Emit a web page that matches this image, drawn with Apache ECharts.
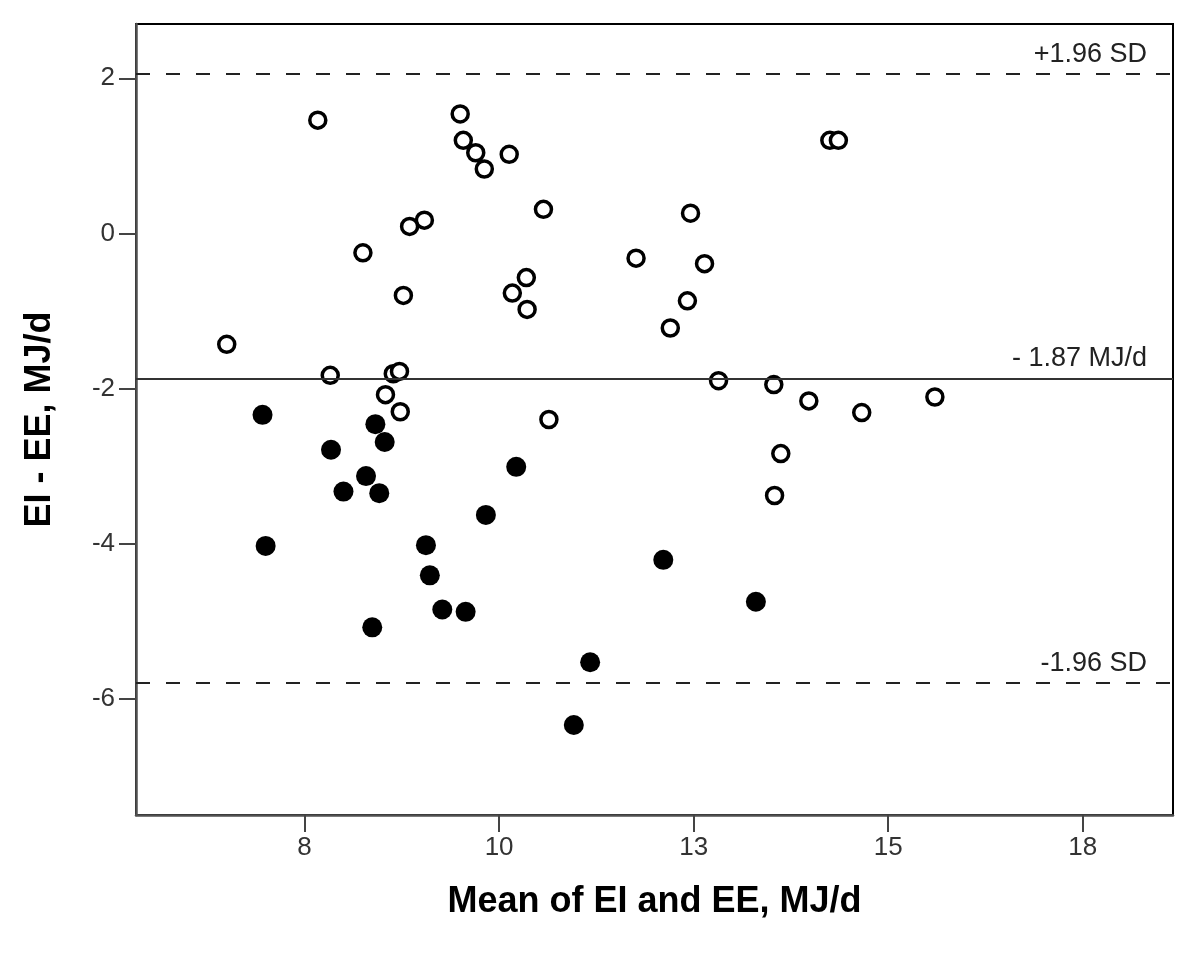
<!DOCTYPE html>
<html>
<head>
<meta charset="utf-8">
<script src="https://cdn.jsdelivr.net/npm/echarts@6/dist/echarts.min.js"></script>
<style>
  html, body { margin: 0; padding: 0; background: #fff; }
  #main { width: 1200px; height: 961px; }
</style>
</head>
<body>
<div id="main"></div>
<script>
// mean of EI and EE (x) and EI - EE (y), both MJ/d
var openMean = [7.67, 9.50, 9.54, 9.70, 9.81, 10.13, 10.57, 9.04, 8.85, 8.25, 8.77, 10.35, 10.17, 10.36,
    6.50, 7.83, 8.64, 8.72, 8.54, 8.73, 10.64, 14.25, 14.36, 12.46, 11.76, 12.64, 12.42, 12.20,
    12.82, 13.53, 13.98, 14.66, 15.60, 13.62, 13.54];
var openDiff = [1.46, 1.54, 1.20, 1.04, 0.83, 1.02, 0.31, 0.17, 0.09, -0.25, -0.80, -0.57, -0.77, -0.98,
    -1.43, -1.83, -1.81, -1.78, -2.08, -2.30, -2.40, 1.20, 1.20, 0.26, -0.32, -0.39, -0.87, -1.22,
    -1.90, -1.95, -2.16, -2.31, -2.11, -2.84, -3.38];
var filledMean = [6.96, 7.84, 8.41, 8.53, 8.29, 8.00, 8.46, 10.22, 9.83, 7.00, 9.06, 9.11, 9.27, 9.57,
    8.37, 11.17, 10.96, 12.11, 13.30];
var filledDiff = [-2.34, -2.79, -2.46, -2.69, -3.13, -3.33, -3.35, -3.01, -3.63, -4.03, -4.02, -4.41,
    -4.85, -4.88, -5.08, -5.53, -6.34, -4.21, -4.75];

var meanDiff = -1.87;
var upperLimit = 2.06;
var lowerLimit = -5.80;

var xTicks = [7.5, 10, 12.5, 15, 17.5];
var yTicks = [-6, -4, -2, 0, 2];

var FONT = '"Liberation Sans", Arial, sans-serif';

function zip(a, b) {
    return a.map(function (v, i) { return [v, b[i]]; });
}

var myChart = echarts.init(document.getElementById('main'));

var refLabel = function (text) {
    return {
        show: true,
        position: 'insideEndTop',
        formatter: text,
        fontFamily: FONT,
        fontSize: 27,
        color: '#222',
        distance: 6,
        padding: [0, 20, 0, 0]
    };
};

var option = {
    animation: false,
    backgroundColor: '#fff',
    grid: {
        left: 136, right: 27, top: 24, bottom: 146,
        show: true,
        borderColor: '#000',
        borderWidth: 2,
        backgroundColor: '#fff'
    },
    xAxis: {
        type: 'value',
        min: 5.334,
        max: 18.66,
        name: 'Mean of EI and EE, MJ/d',
        nameLocation: 'middle',
        nameGap: 69,
        nameTextStyle: { fontFamily: FONT, fontSize: 36, fontWeight: 'bold', color: '#000' },
        axisLine: { show: true, onZero: false, lineStyle: { color: '#505050', width: 2.5 } },
        axisTick: { show: true, length: 17, customValues: xTicks, lineStyle: { color: '#444', width: 2 } },
        axisLabel: {
            customValues: xTicks,
            margin: 20,
            fontFamily: FONT, fontSize: 26, color: '#333',
            formatter: function (v) { return String(Math.round(v)); }
        },
        splitLine: { show: false }
    },
    yAxis: {
        type: 'value',
        min: -7.5,
        max: 2.7,
        name: 'EI - EE, MJ/d',
        nameLocation: 'middle',
        nameGap: 78,
        nameTextStyle: { fontFamily: FONT, fontSize: 36, fontWeight: 'bold', color: '#000' },
        axisLine: { show: true, onZero: false, lineStyle: { color: '#505050', width: 2.5 } },
        axisTick: { show: true, length: 17, customValues: yTicks, lineStyle: { color: '#444', width: 2 } },
        axisLabel: {
            customValues: yTicks,
            margin: 21,
            fontFamily: FONT, fontSize: 26, color: '#333'
        },
        splitLine: { show: false }
    },
    series: [
        {
            // reference lines only
            type: 'scatter',
            data: [],
            z: 1,
            markLine: {
                silent: true,
                symbol: 'none',
                animation: false,
                data: [
                    { yAxis: upperLimit, lineStyle: { type: [14, 16], color: '#222', width: 2 }, label: refLabel('+1.96 SD') },
                    { yAxis: meanDiff, lineStyle: { type: 'solid', color: '#333', width: 2 }, label: refLabel('- 1.87 MJ/d') },
                    { yAxis: lowerLimit, lineStyle: { type: [14, 16], color: '#222', width: 2 }, label: refLabel('-1.96 SD') }
                ]
            }
        },
        {
            name: 'filled',
            type: 'scatter',
            z: 3,
            symbol: 'circle',
            symbolSize: 20,
            itemStyle: { color: '#000', opacity: 1 },
            data: zip(filledMean, filledDiff)
        },
        {
            name: 'open',
            type: 'scatter',
            z: 4,
            symbol: 'circle',
            symbolSize: 16,
            itemStyle: { color: '#fff', borderColor: '#000', borderWidth: 3.5, opacity: 1 },
            data: zip(openMean, openDiff)
        }
    ]
};

myChart.setOption(option);
</script>
</body>
</html>
